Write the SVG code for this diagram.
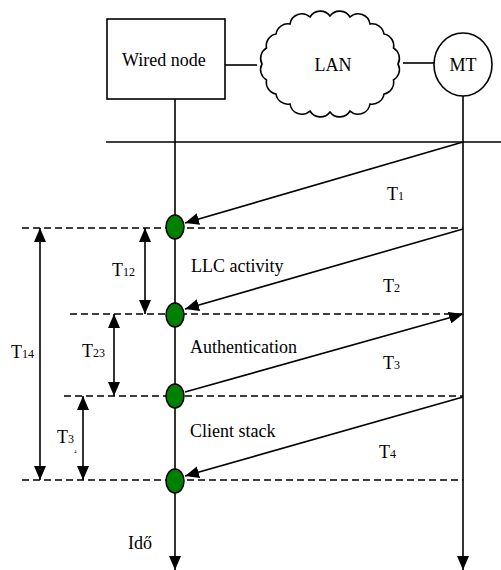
<svg xmlns="http://www.w3.org/2000/svg" width="501" height="570" viewBox="0 0 501 570">
<style>
text{font-family:"Liberation Serif","Times New Roman","DejaVu Serif",serif;fill:#000;font-size:18px}
.sub{font-size:12px}
.ln{stroke:#000;stroke-width:1.6;fill:none}
.dash{stroke:#000;stroke-width:1.4;fill:none;stroke-dasharray:7,4}
.dot{fill:#008000;stroke:#000;stroke-width:1.5}
</style>
<defs>
<marker id="ah" viewBox="0 0 14 12" refX="14" refY="6" markerWidth="14" markerHeight="12" markerUnits="userSpaceOnUse" orient="auto-start-reverse">
<path d="M0,0 L14,6 L0,12 Z" fill="#000"/>
</marker>
</defs>
<rect width="501" height="570" fill="#fff"/>
<g id="wired-node">
<rect x="107" y="19" width="118" height="80" class="ln"/>
<text x="122" y="66" font-family="Liberation Serif, serif">Wired node</text>
</g>
<g id="lan">
<path class="ln" fill="#fff" d="M398,64 A12,12 0 0 1 393.5,80 A12,12 0 0 1 384,94 A12,12 0 0 1 370,104 A12,12 0 0 1 350,111 A12,12 0 0 1 330,112 A12,12 0 0 1 310,111 A12,12 0 0 1 290,104 A12,12 0 0 1 276,94 A12,12 0 0 1 266.5,80 A12,12 0 0 1 262,64 A12,12 0 0 1 266.5,48 A12,12 0 0 1 276,34 A12,12 0 0 1 290,24 A12,12 0 0 1 310,17 A12,12 0 0 1 330,16 A12,12 0 0 1 350,17 A12,12 0 0 1 370,24 A12,12 0 0 1 384,34 A12,12 0 0 1 393.5,48 A12,12 0 0 1 398,64 Z"/>
<text x="333" y="71" text-anchor="middle">LAN</text>
</g>
<g id="mt">
<ellipse cx="463" cy="64.5" rx="29" ry="31.5" class="ln"/>
<text x="463" y="71" text-anchor="middle">MT</text>
</g>
<g id="connectors">
<line x1="225" y1="65" x2="257" y2="65" class="ln"/>
<line x1="403" y1="63" x2="434" y2="63" class="ln"/>
<line x1="175" y1="99" x2="175" y2="570" class="ln" marker-end="url(#ah)"/>
<line x1="463" y1="96" x2="463" y2="570" class="ln" marker-end="url(#ah)"/>
<line x1="106" y1="142" x2="501" y2="142" class="ln"/>
<line x1="22" y1="228" x2="463" y2="228" class="dash"/>
<line x1="70" y1="314" x2="463" y2="314" class="dash"/>
<line x1="64" y1="396" x2="463" y2="396" class="dash"/>
<line x1="22" y1="480" x2="463" y2="480" class="dash"/>
<line x1="463" y1="142" x2="185" y2="223" class="ln" marker-end="url(#ah)"/>
<line x1="463" y1="229" x2="185" y2="309" class="ln" marker-end="url(#ah)"/>
<line x1="185" y1="392" x2="463" y2="314" class="ln" marker-end="url(#ah)"/>
<line x1="463" y1="397" x2="185" y2="476" class="ln" marker-end="url(#ah)"/>
<line x1="145" y1="228" x2="145" y2="314" class="ln" marker-start="url(#ah)" marker-end="url(#ah)"/>
<line x1="114" y1="314" x2="114" y2="396" class="ln" marker-start="url(#ah)" marker-end="url(#ah)"/>
<line x1="83" y1="396" x2="83" y2="480" class="ln" marker-start="url(#ah)" marker-end="url(#ah)"/>
<line x1="40" y1="228" x2="40" y2="480" class="ln" marker-start="url(#ah)" marker-end="url(#ah)"/>
</g>
<g id="events">
<ellipse cx="175" cy="227" rx="9" ry="12" class="dot"/>
<ellipse cx="175" cy="315" rx="9" ry="12" class="dot"/>
<ellipse cx="175" cy="396" rx="9" ry="12" class="dot"/>
<ellipse cx="175" cy="481" rx="9" ry="12" class="dot"/>
</g>
<g id="labels">
<text x="387" y="200">T<tspan class="sub">1</tspan></text>
<text x="383" y="292">T<tspan class="sub">2</tspan></text>
<text x="383" y="369">T<tspan class="sub">3</tspan></text>
<text x="379" y="458">T<tspan class="sub">4</tspan></text>
<text x="191" y="272">LLC activity</text>
<text x="190" y="353">Authentication</text>
<text x="190" y="437">Client stack</text>
<text x="128" y="549">Idő</text>
<text x="112" y="276">T<tspan class="sub">12</tspan></text>
<text x="82" y="357">T<tspan class="sub">23</tspan></text>
<text x="11" y="358">T<tspan class="sub">14</tspan></text>
<text x="57" y="443">T<tspan class="sub">3</tspan></text>
<text x="74" y="453" style="font-size:5px">4</text>
</g>
</svg>
